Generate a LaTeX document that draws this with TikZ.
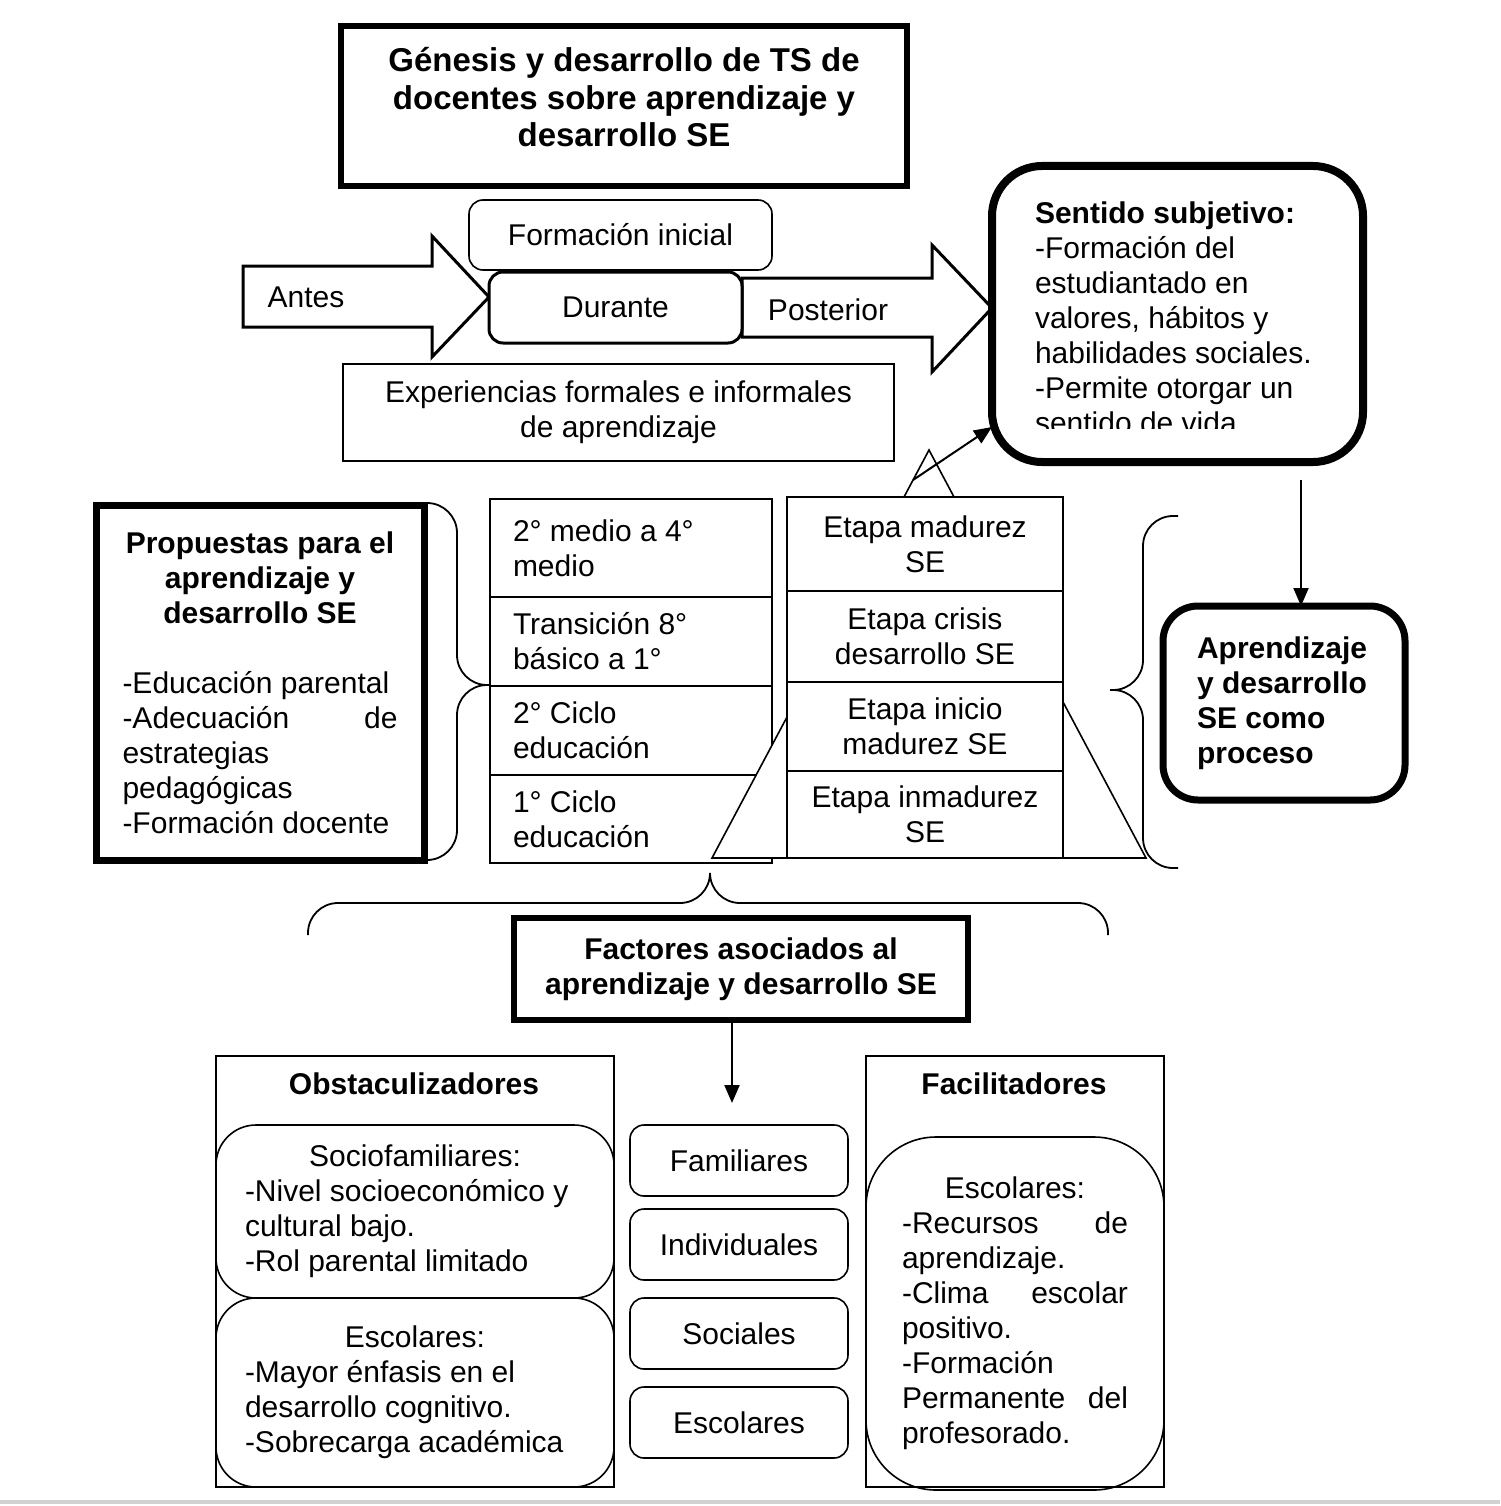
\documentclass[tikz,border=0pt]{standalone}
\usepackage{fontspec}
\setmainfont{Liberation Sans}
\usetikzlibrary{arrows.meta,positioning,calc}
\setlength{\parindent}{0pt}
\newcommand{\ctrline}[1]{\mbox{}\hfill#1\hfill\mbox{}}

\begin{document}
\begin{tikzpicture}[x=1pt,y=-1pt,>={Triangle[length=18pt,width=15pt]},
  font=\fontsize{30}{35}\selectfont,
  box/.style={draw,line width=1.6pt,outer sep=0pt,align=center},
  rbox/.style={box,rounded corners=14pt},
  thickbox/.style={box,line width=6pt,font=\fontsize{30}{35}\selectfont\bfseries},
  thickrbox/.style={thickbox,rounded corners=45pt},
  cell/.style={box,minimum width=282pt,text width=236pt,align=justify,inner sep=4pt},
  stage/.style={box,fill=white,minimum width=276pt,inner sep=4pt},
  factor/.style={rbox,minimum width=218pt,minimum height=71pt},
  blockarrow/.style={draw,line width=3pt,line join=miter},
  bracket/.style={draw,line width=1.8pt,rounded corners=30pt},
  link/.style={->,line width=2pt}]
\useasboundingbox (0,0) rectangle (1500,1506);

% titulo
\node[thickbox,minimum width=566pt,minimum height=160pt] (gen) at (624,106) {};
\node[font=\fontsize{33}{37.5}\selectfont\bfseries,align=center] (gentxt) at (624,97.5)
  {Génesis y desarrollo de TS de\\docentes sobre aprendizaje y\\desarrollo SE};

% flechas antes / posterior
\draw[blockarrow] (243,266) -- (432,266) -- (432,236) -- (489,297) -- (432,357) -- (432,327) -- (243,327) -- cycle;
\draw[blockarrow] (742,278) -- (932,278) -- (932,245) -- (992,308) -- (932,372) -- (932,337) -- (742,337) -- cycle;
\node (antes) at (306,297) {Antes};
\node (post) at (828,310) {Posterior};

\node[rbox,minimum width=303pt,minimum height=70pt] (fi) at (620.5,235) {Formación inicial};
\node[rbox,line width=3pt,fill=white,minimum width=253pt,minimum height=71pt] (dur) at (615.5,307.5) {Durante};
\node[box,minimum width=551pt,minimum height=97pt] (exp) at (618.5,412.5)
  {Experiencias formales e informales\\de aprendizaje};

% sentido subjetivo
\node[thickrbox,line width=8pt,rounded corners=50pt,minimum width=371pt,minimum height=296pt] (sent) at (1177.5,314) {};
\begin{scope}
  \clip (1000,180) rectangle (1350,428);
  \node[text width=285pt,align=justify,inner sep=0pt] (senttxt) at (1177.5,318)
    {\textbf{Sentido subjetivo:}\\-Formación del\\estudiantado en\\valores, hábitos y\\habilidades sociales.\\-Permite otorgar un\\sentido de vida};
\end{scope}

\node[thickrbox,line width=7pt,rounded corners=35pt,minimum width=242pt,minimum height=194pt,
  text width=174pt,align=justify] (apr) at (1284,703) {Aprendizaje\\y desarrollo\\SE como\\proceso};
\coordinate (sentbot) at (1301,480);
\draw[link] (sentbot) -- (sentbot |- apr.north);

% niveles escolares
\node[cell,minimum height=98pt] (c1) at (631,548) {2° medio a 4°\\medio};
\node[cell,minimum height=89pt,below=0pt of c1] (c2) {Transición 8°\\básico a 1°};
\node[cell,minimum height=89pt,below=0pt of c2] (c3) {2° Ciclo\\educación};
\node[cell,minimum height=88pt,below=0pt of c3] (c4) {1° Ciclo\\educación};

% piramide
\draw[line width=1.6pt,fill=white] (929,450) -- (712,858) -- (1146,858) -- cycle;
\node[stage,minimum height=94pt] (e1) at (925,544) {Etapa madurez\\SE};
\node[stage,minimum height=91pt,below=0pt of e1] (e2) {Etapa crisis\\desarrollo SE};
\node[stage,minimum height=89pt,below=0pt of e2] (e3) {Etapa inicio\\madurez SE};
\node[stage,minimum height=87pt,below=0pt of e3] (e4) {Etapa inmadurez\\SE};

\coordinate (apex) at (913,480);
\draw[link] (apex) -- ($(sent.west)+(0,113)$);

% propuestas
\node[thickbox,line width=7pt,minimum width=328pt,minimum height=355pt,text width=275pt,
  align=justify,font=\fontsize{30}{35}\selectfont] (prop) at (260,682.5)
  {\ctrline{\textbf{Propuestas para el}}\\\ctrline{\textbf{aprendizaje y}}\\\ctrline{\textbf{desarrollo SE}}\\[35pt]
   -Educación parental\\-Adecuación\hfill de\\estrategias\\pedagógicas\\-Formación docente};

% llaves
\draw[bracket] (425,503) -- (457,503) -- (457,685) -- (490,685);
\draw[bracket] (425,860) -- (457,860) -- (457,685) -- (490,685);
\draw[bracket] (1178,516) -- (1143,516) -- (1143,690) -- (1110,690);
\draw[bracket] (1178,868) -- (1143,868) -- (1143,690) -- (1110,690);
\draw[bracket] (308,935) -- (308,903) -- (710,903) -- (710,873);
\draw[bracket] (1108,935) -- (1108,903) -- (710,903) -- (710,873);

% factores
\node[thickbox,minimum width=454pt,minimum height=102pt] (fac) at (741,969)
  {Factores asociados al\\aprendizaje y desarrollo SE};
\coordinate (factip) at (732,1103);
\draw[link] (fac.south -| factip) -- (factip);

% obstaculizadores
\node[box,minimum width=398pt,minimum height=431pt] (obs) at (415,1271.5) {};
\node[font=\fontsize{30}{35}\selectfont\bfseries] (obstit) at (414,1084) {Obstaculizadores};
\node[rbox,rounded corners=40pt,minimum width=398pt,minimum height=173pt,text width=340pt,align=justify] (socio) at (415,1211.5)
  {\ctrline{Sociofamiliares:}\\-Nivel socioeconómico y\\cultural bajo.\\-Rol parental limitado};
\node[rbox,rounded corners=40pt,minimum width=398pt,minimum height=189pt,text width=340pt,align=justify] (escobs) at (415,1392.5)
  {\ctrline{Escolares:}\\-Mayor énfasis en el\\desarrollo cognitivo.\\-Sobrecarga académica};

% tipos de factores
\node[factor] (fam) at (739,1160.5) {Familiares};
\node[factor] (ind) at (739,1244.5) {Individuales};
\node[factor] (soc) at (739,1333.5) {Sociales};
\node[factor] (esc) at (739,1422.5) {Escolares};

% facilitadores
\node[box,minimum width=298pt,minimum height=431pt] (fal) at (1015,1271.5) {};
\node[font=\fontsize{30}{35}\selectfont\bfseries] (faltit) at (1014,1084) {Facilitadores};
\node[rbox,rounded corners=70pt,minimum width=298pt,minimum height=353pt,text width=226pt,align=justify] (escfal) at (1015,1313.5)
  {\ctrline{Escolares:}\\-Recursos\hfill de\\aprendizaje.\\-Clima\hfill escolar\\positivo.\\-Formación\\Permanente\hfill del\\profesorado.};

\draw[gray!35,line width=4pt] (0,1502) -- (1500,1502);
\end{tikzpicture}
\end{document}
